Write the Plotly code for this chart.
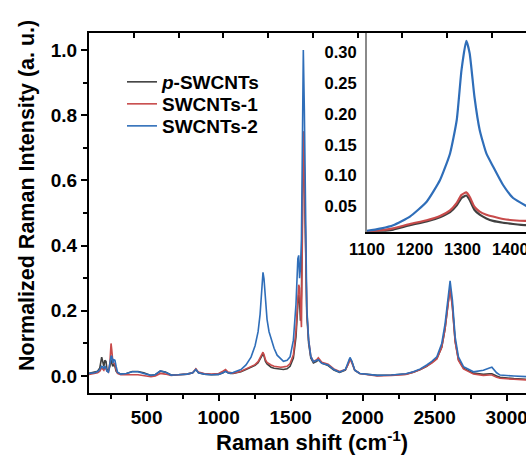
import plotly.graph_objects as go

# ---------------- data ----------------
raman_shift = [100, 120, 140, 160, 175, 188, 195, 203, 210, 218, 225, 235, 245, 253, 258, 265, 272, 280, 288, 298,
               320, 360, 400, 440, 480, 530, 560, 595, 630, 670, 720, 780, 820, 842, 860, 900, 950, 1000, 1030, 1048,
               1065, 1080, 1100, 1130, 1155, 1190, 1225, 1253, 1274, 1288, 1298, 1308, 1315, 1325, 1336, 1350, 1364,
               1385, 1406, 1432, 1450, 1475, 1496, 1519, 1537, 1550, 1556, 1562, 1568, 1575, 1582, 1588, 1595, 1603,
               1612, 1625, 1640, 1658, 1681, 1692, 1716, 1760, 1800, 1840, 1880, 1900, 1912, 1925, 1945, 1980, 2040,
               2100, 2200, 2300, 2352, 2400, 2445, 2480, 2515, 2549, 2572, 2591, 2607, 2623, 2642, 2665, 2700, 2769,
               2838, 2880, 2897, 2930, 2954, 3050, 3140]

p_swcnts = [0.008, 0.010, 0.012, 0.015, 0.025, 0.058, 0.045, 0.030, 0.048, 0.045, 0.020, 0.015, 0.030, 0.050, 0.040,
            0.030, 0.035, 0.030, 0.015, 0.010,
            0.006, 0.008, 0.014, 0.014, 0.010, 0.002, 0.004, 0.015, 0.012, 0.003, 0.004, 0.006, 0.010, 0.020, 0.010,
            0.006, 0.004, 0.005, 0.010, 0.016,
            0.010, 0.008, 0.008, 0.010, 0.013, 0.020, 0.026, 0.033, 0.041, 0.052, 0.064, 0.068, 0.061, 0.045, 0.037,
            0.031, 0.027,
            0.024, 0.022, 0.020, 0.020, 0.022, 0.030, 0.055, 0.120, 0.220, 0.250, 0.230, 0.170, 0.250, 0.550, 0.750,
            0.620, 0.360,
            0.190, 0.100, 0.055, 0.040, 0.045, 0.050, 0.040, 0.032, 0.018, 0.011, 0.018, 0.038, 0.054, 0.044, 0.018,
            0.008, 0.004,
            0.002, 0.003, 0.006, 0.012, 0.020, 0.030, 0.041, 0.054, 0.088, 0.145, 0.215, 0.272, 0.215, 0.108, 0.050,
            0.024, 0.009,
            0.005, 0.007, 0.007, 0.000, -0.004, -0.008, -0.010]

swcnts_1 = [0.005, 0.006, 0.008, 0.010, 0.015, 0.025, 0.022, 0.018, 0.025, 0.022, 0.015, 0.012, 0.040, 0.100, 0.080,
            0.045, 0.040, 0.035, 0.020, 0.008,
            0.004, 0.003, 0.004, 0.004, 0.002, -0.002, 0.000, 0.008, 0.006, 0.002, 0.004, 0.006, 0.010, 0.022, 0.012,
            0.008, 0.006, 0.008, 0.015, 0.020,
            0.012, 0.010, 0.009, 0.012, 0.015, 0.022, 0.028, 0.035, 0.044, 0.056, 0.069, 0.073, 0.066, 0.050, 0.042,
            0.037, 0.034,
            0.030, 0.028, 0.027, 0.028, 0.030, 0.038, 0.065, 0.140, 0.250, 0.280, 0.270, 0.200, 0.150, 0.450, 0.750,
            0.640, 0.370,
            0.200, 0.110, 0.060, 0.045, 0.050, 0.056, 0.042, 0.036, 0.022, 0.014, 0.020, 0.036, 0.052, 0.040, 0.018,
            0.008, 0.003,
            0.000, 0.002, 0.005, 0.012, 0.020, 0.031, 0.040, 0.052, 0.088, 0.145, 0.210, 0.270, 0.210, 0.105, 0.048,
            0.022, 0.006,
            0.002, 0.003, 0.003, -0.004, -0.007, -0.010, -0.012]

swcnts_2 = [0.008, 0.009, 0.010, 0.014, 0.020, 0.030, 0.028, 0.022, 0.030, 0.025, 0.015, 0.012, 0.045, 0.060, 0.062,
            0.040, 0.050, 0.048, 0.030, 0.012,
            0.006, 0.008, 0.013, 0.013, 0.008, 0.002, 0.004, 0.016, 0.012, 0.003, 0.004, 0.006, 0.010, 0.020, 0.010,
            0.006, 0.004, 0.005, 0.010, 0.014,
            0.010, 0.009, 0.011, 0.015, 0.020, 0.034, 0.058, 0.093, 0.136, 0.190, 0.271, 0.318, 0.298, 0.228, 0.174,
            0.136, 0.115,
            0.085, 0.064, 0.052, 0.045, 0.048, 0.059, 0.110, 0.220, 0.360, 0.370, 0.300, 0.330, 0.420, 0.720, 1.000,
            0.820, 0.450,
            0.210, 0.110, 0.060, 0.044, 0.048, 0.050, 0.039, 0.034, 0.020, 0.012, 0.020, 0.040, 0.057, 0.045, 0.018,
            0.008, 0.004,
            0.002, 0.003, 0.007, 0.013, 0.022, 0.034, 0.045, 0.059, 0.100, 0.160, 0.233, 0.292, 0.233, 0.120, 0.059,
            0.029, 0.013,
            0.018, 0.025, 0.027, 0.010, 0.003, 0.000, -0.002]

series_names = ["<i>p</i>-SWCNTs", "SWCNTs-1", "SWCNTs-2"]
series_colors = ["#404040", "#c84b4b", "#2f6eb9"]
legend_ids = ["legend", "legend2", "legend3"]

assert len(raman_shift) == len(p_swcnts) == len(swcnts_1) == len(swcnts_2)

FONT = "Liberation Sans, Arial, sans-serif"

fig = go.Figure()
for name, ys, col, lg in zip(series_names, [p_swcnts, swcnts_1, swcnts_2], series_colors, legend_ids):
    fig.add_trace(go.Scatter(x=raman_shift, y=ys, name=name, mode="lines", legend=lg,
                             line=dict(color=col, width=1.6), xaxis="x", yaxis="y",
                             hoverinfo="skip"))
for name, ys, col in zip(series_names, [p_swcnts, swcnts_1, swcnts_2], series_colors):
    fig.add_trace(go.Scatter(x=raman_shift, y=ys, name=name, mode="lines", showlegend=False,
                             line=dict(color=col, width=2.2, shape="spline", smoothing=0.5),
                             xaxis="x2", yaxis="y2", hoverinfo="skip"))
# empty traces so the top tick axes exist
fig.add_trace(go.Scatter(x=[], y=[], xaxis="x3", yaxis="y", showlegend=False, hoverinfo="skip"))
fig.add_trace(go.Scatter(x=[], y=[], xaxis="x4", yaxis="y2", showlegend=False, hoverinfo="skip"))

bold19 = dict(family=FONT, size=19, color="black", weight="bold")
bold16 = dict(family=FONT, size=16.5, color="black", weight="bold")
legend_font = dict(family=FONT, size=19, color="black", weight="bold")


def legend_box(ytop):
    return dict(x=0.0755, y=ytop, xanchor="left", yanchor="top", bgcolor="rgba(0,0,0,0)",
                font=legend_font, borderwidth=0)


fig.update_layout(
    width=526, height=460,
    margin=dict(l=89, r=0, t=33, b=67, pad=0, autoexpand=False),
    paper_bgcolor="white", plot_bgcolor="white",
    font=dict(family=FONT, color="black"),
    xaxis=dict(domain=[0, 1], range=[100, 3134], anchor="y", showgrid=False, zeroline=False,
               showline=True, linecolor="black", linewidth=2,
               ticks="outside", ticklen=6, tickwidth=1.5, tickcolor="black",
               tick0=0, dtick=500, tickfont=bold19, ticklabeloverflow="allow",
               minor=dict(ticks="outside", ticklen=4, tickwidth=1.5, tickcolor="black", dtick=250, tick0=0,
                          showgrid=False)),
    yaxis=dict(domain=[0, 1], range=[-0.052, 1.052], anchor="x", showgrid=False, zeroline=False,
               showline=True, linecolor="black", linewidth=2,
               ticks="outside", ticklen=6, tickwidth=1.5, tickcolor="black",
               tick0=0, dtick=0.2, tickformat=".1f", tickfont=bold19,
               minor=dict(ticks="outside", ticklen=4, tickwidth=1.5, tickcolor="black", dtick=0.1, tick0=0,
                          showgrid=False)),
    xaxis3=dict(overlaying="x", anchor="y", side="top", range=[0, 9.761], showgrid=False, zeroline=False,
                showline=True, linecolor="black", linewidth=1.5, ticks="inside", ticklen=5, tickwidth=1.5,
                tickcolor="black", tick0=0, dtick=1, showticklabels=False),
    xaxis2=dict(domain=[0.6355, 1], range=[1099.5, 1433], anchor="y2", showgrid=False, zeroline=False,
                showline=True, linecolor="black", linewidth=1.5, ticks="", tick0=1100, dtick=100,
                tickfont=bold16, ticklabelstandoff=2, ticklabeloverflow="allow"),
    yaxis2=dict(domain=[0.448, 1], range=[0.0095, 0.3306], anchor="x2", showgrid=False, zeroline=False,
                showline=True, linecolor="#8a8a8a", linewidth=1.5, ticks="", tick0=0.05, dtick=0.05,
                tickformat=".2f", tickfont=bold16, ticklabelstandoff=5),
    xaxis4=dict(domain=[0.6355, 1], overlaying="x2", anchor="y2", side="top", range=[6.203, 9.761],
                showgrid=False, zeroline=False, showline=True, linecolor="black", linewidth=1.5,
                ticks="inside", ticklen=5, tickwidth=1.5, tickcolor="black", tick0=0, dtick=1,
                showticklabels=False),
    legend=legend_box(0.9167),
    legend2=legend_box(0.8556),
    legend3=legend_box(0.7944),
    annotations=[
        dict(text="Normalized Raman Intensity (a. u.)", textangle=-90, xref="paper", yref="paper",
             x=-0.1419, y=0.55, xanchor="center", yanchor="middle", showarrow=False,
             font=dict(family=FONT, size=21.5, color="black", weight="bold")),
        dict(text="Raman shift (cm<sup>-1</sup>)", xref="paper", yref="paper",
             x=0.5114, y=-0.133, xanchor="center", yanchor="middle", showarrow=False,
             font=dict(family=FONT, size=22, color="black", weight="bold")),
    ],
)

fig.write_html("out.html")
